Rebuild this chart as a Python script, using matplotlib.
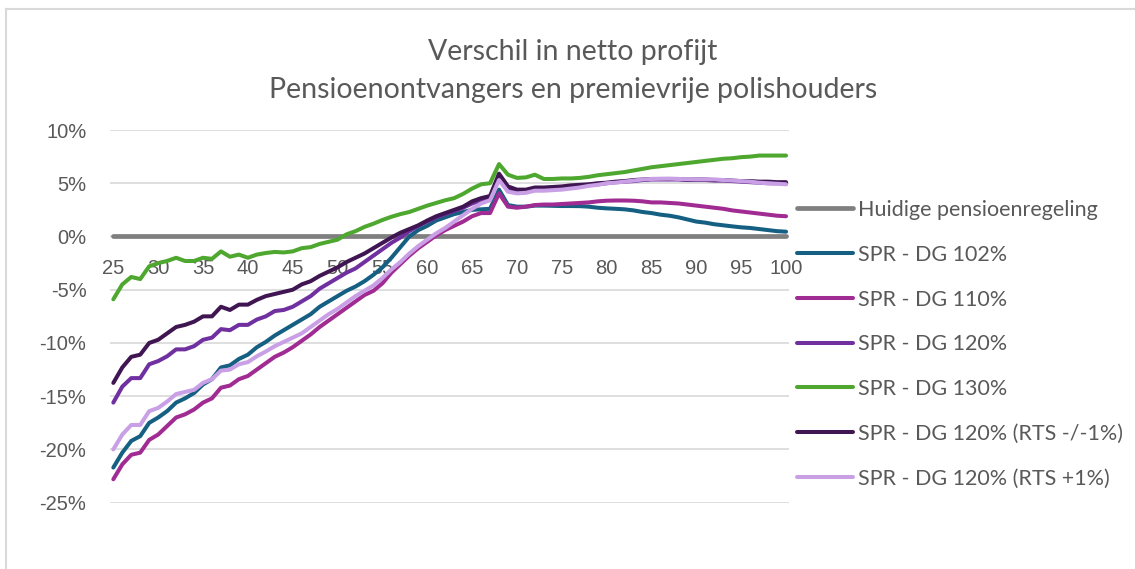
import matplotlib
matplotlib.use("Agg")
import matplotlib.pyplot as plt
from matplotlib.lines import Line2D
from matplotlib.ticker import FuncFormatter, MultipleLocator

# ─── Data (verschil in netto profijt, % per leeftijd) ────────

ages = list(range(25, 101))

huidige = [0.0] * len(ages)

dg_102 = [
    -21.7, -20.3, -19.2, -18.75, -17.5, -17.0, -16.4, -15.6, -15.2, -14.7,
    -13.9, -13.4, -12.3, -12.1, -11.5, -11.1, -10.4, -9.9, -9.3, -8.8,
    -8.3, -7.8, -7.3, -6.6, -6.1, -5.6, -5.1, -4.7, -4.2, -3.6,
    -2.9, -2.0, -1.0, 0.0, 0.6, 1.0, 1.5, 1.8, 2.1, 2.3,
    2.5, 2.55, 2.6, 4.4, 2.95, 2.8, 2.8, 2.9, 2.9, 2.88,
    2.86, 2.86, 2.85, 2.8, 2.7, 2.64, 2.6, 2.55, 2.45, 2.3,
    2.2, 2.05, 1.95, 1.8, 1.6, 1.4, 1.3, 1.15, 1.05, 0.95,
    0.86, 0.8, 0.7, 0.6, 0.5, 0.45,
]

dg_110 = [
    -22.8, -21.4, -20.5, -20.3, -19.1, -18.6, -17.8, -17.0, -16.7, -16.25,
    -15.6, -15.2, -14.2, -14.0, -13.4, -13.1, -12.5, -11.9, -11.3, -10.9,
    -10.4, -9.8, -9.2, -8.5, -7.9, -7.3, -6.7, -6.1, -5.5, -5.1,
    -4.4, -3.4, -2.6, -1.8, -1.1, -0.5, 0.1, 0.6, 1.0, 1.4,
    1.9, 2.2, 2.2, 4.05, 2.8, 2.7, 2.8, 2.95, 3.0, 3.0,
    3.05, 3.1, 3.15, 3.2, 3.3, 3.36, 3.38, 3.38, 3.36, 3.3,
    3.2, 3.2, 3.15, 3.1, 3.0, 2.9, 2.8, 2.7, 2.6, 2.45,
    2.35, 2.25, 2.15, 2.05, 1.95, 1.9,
]

dg_120 = [
    -15.6, -14.1, -13.3, -13.3, -12.0, -11.7, -11.25, -10.6, -10.6, -10.3,
    -9.7, -9.5, -8.7, -8.8, -8.3, -8.3, -7.8, -7.5, -7.0, -6.9,
    -6.6, -6.1, -5.6, -4.9, -4.4, -3.9, -3.4, -3.0, -2.4, -1.8,
    -1.2, -0.6, -0.1, 0.5, 1.0, 1.4, 1.8, 2.1, 2.4, 2.7,
    3.1, 3.4, 3.6, 5.6, 4.45, 4.2, 4.2, 4.45, 4.45, 4.5,
    4.55, 4.65, 4.75, 4.85, 4.9, 5.0, 5.1, 5.15, 5.2, 5.3,
    5.35, 5.35, 5.35, 5.35, 5.3, 5.3, 5.3, 5.25, 5.25, 5.2,
    5.15, 5.1, 5.05, 5.0, 5.0, 4.95,
]

dg_130 = [
    -5.9, -4.5, -3.8, -4.0, -2.8, -2.5, -2.3, -2.0, -2.3, -2.3,
    -2.0, -2.1, -1.4, -1.9, -1.7, -2.0, -1.7, -1.55, -1.45, -1.5,
    -1.4, -1.1, -1.0, -0.7, -0.5, -0.3, 0.2, 0.5, 0.9, 1.2,
    1.55, 1.85, 2.1, 2.3, 2.6, 2.9, 3.15, 3.4, 3.6, 4.0,
    4.5, 4.9, 5.0, 6.8, 5.8, 5.5, 5.55, 5.8, 5.4, 5.4,
    5.45, 5.45, 5.5, 5.6, 5.75, 5.85, 5.95, 6.05, 6.2, 6.35,
    6.5, 6.6, 6.7, 6.8, 6.9, 7.0, 7.1, 7.2, 7.3, 7.35,
    7.45, 7.5, 7.6, 7.6, 7.6, 7.6,
]

dg_120_rts_min = [
    -13.75, -12.3, -11.3, -11.1, -10.0, -9.7, -9.1, -8.5, -8.3, -8.0,
    -7.5, -7.5, -6.6, -6.9, -6.4, -6.4, -5.95, -5.6, -5.4, -5.2,
    -5.0, -4.5, -4.2, -3.7, -3.3, -2.9, -2.4, -2.0, -1.6, -1.1,
    -0.6, -0.1, 0.35, 0.7, 1.05, 1.5, 1.9, 2.2, 2.5, 2.8,
    3.3, 3.6, 3.8, 5.9, 4.7, 4.4, 4.4, 4.6, 4.6, 4.65,
    4.7, 4.8, 4.85, 4.9, 5.0, 5.05, 5.15, 5.2, 5.3, 5.35,
    5.4, 5.4, 5.4, 5.4, 5.35, 5.35, 5.35, 5.3, 5.3, 5.25,
    5.2, 5.2, 5.15, 5.15, 5.1, 5.1,
]

dg_120_rts_plus = [
    -20.0, -18.6, -17.7, -17.7, -16.4, -16.1, -15.5, -14.8, -14.6, -14.4,
    -13.75, -13.4, -12.6, -12.5, -12.0, -11.8, -11.25, -10.8, -10.3, -9.9,
    -9.5, -9.1, -8.5, -7.9, -7.3, -6.8, -6.2, -5.6, -5.1, -4.6,
    -3.9, -3.1, -2.4, -1.6, -0.9, -0.3, 0.3, 0.8, 1.4, 2.0,
    2.6, 3.1, 3.4, 5.3, 4.2, 4.05, 4.1, 4.3, 4.3, 4.35,
    4.4, 4.5, 4.6, 4.75, 4.85, 5.0, 5.05, 5.15, 5.25, 5.35,
    5.4, 5.42, 5.43, 5.4, 5.38, 5.36, 5.36, 5.36, 5.3, 5.25,
    5.2, 5.15, 5.05, 5.0, 4.95, 4.9,
]

series_labels = [
    "Huidige pensioenregeling",
    "SPR - DG 102%",
    "SPR - DG 110%",
    "SPR - DG 120%",
    "SPR - DG 130%",
    "SPR - DG 120% (RTS -/-1%)",
    "SPR - DG 120% (RTS +1%)",
]

TITLE_1 = "Verschil in netto profijt"
TITLE_2 = "Pensioenontvangers en premievrije polishouders"

# ─── Style ───────────────────────────────────────────────────

W, H = 1135, 569
TEXT_GRAY = "#595959"
GRID_GRAY = "#d9d9d9"
COLORS = ["#7f7f7f", "#156082", "#a02b93", "#7030a0",
          "#4ea72e", "#3f1651", "#c9a0e6"]
TICK_FONT = "Liberation Sans"
TEXT_FONT = "Lato"


def px_x(x):
    return x / W


def px_y(y):
    return 1 - y / H


def main():
    fig = plt.figure(figsize=(W / 100, H / 100), dpi=100)
    fig.patch.set_facecolor("white")

    # chart-area border (left + top edge visible in the screenshot)
    fig.add_artist(Line2D([px_x(6), px_x(6)], [px_y(9), 0], color="#d9d9d9", lw=1.5))
    fig.add_artist(Line2D([px_x(6), 1], [px_y(9), px_y(9)], color="#d9d9d9", lw=1.5))

    left, right = px_x(110), px_x(789)
    top, bottom = px_y(130), px_y(502.7)
    ax = fig.add_axes([left, bottom, right - left, top - bottom])

    data = [huidige, dg_102, dg_110, dg_120, dg_130, dg_120_rts_min, dg_120_rts_plus]
    for i, (vals, lbl) in enumerate(zip(data, series_labels)):
        lw = 3.4 if i == 0 else 2.9
        ax.plot(ages, vals, color=COLORS[i], lw=lw, label=lbl,
                solid_capstyle="round", solid_joinstyle="round", zorder=3 + i)

    ax.set_xlim(24.63, 100.33)
    ax.set_ylim(-25, 10)
    ax.yaxis.set_major_locator(MultipleLocator(5))
    ax.yaxis.set_major_formatter(FuncFormatter(lambda v, _: f"{v:.0f}%"))
    ax.set_xticks(list(range(25, 101, 5)))
    ax.grid(True, axis="y", color=GRID_GRAY, lw=1.2, zorder=0)
    ax.set_axisbelow(True)

    for s in ["top", "right", "left"]:
        ax.spines[s].set_visible(False)
    ax.spines["bottom"].set_position(("data", 0))
    ax.spines["bottom"].set_visible(False)

    ax.tick_params(axis="y", length=0, pad=17, labelsize=14.5, labelcolor=TEXT_GRAY)
    ax.tick_params(axis="x", length=0, pad=16, labelsize=14.5, labelcolor=TEXT_GRAY)
    for t in ax.get_xticklabels() + ax.get_yticklabels():
        t.set_fontfamily(TICK_FONT)

    fig.text(px_x(573), px_y(52), TITLE_1, ha="center", va="center",
             fontsize=20.5, color=TEXT_GRAY, family=TEXT_FONT)
    fig.text(px_x(573), px_y(90), TITLE_2, ha="center", va="center",
             fontsize=20.5, color=TEXT_GRAY, family=TEXT_FONT)

    handles, labels = ax.get_legend_handles_labels()
    leg = fig.legend(handles, labels, loc="upper left",
                     bbox_to_anchor=(px_x(797), px_y(200)),
                     frameon=False, borderpad=0, borderaxespad=0,
                     handlelength=2.6, handletextpad=0.25, labelspacing=1.15,
                     prop={"family": TEXT_FONT, "size": 15.5})
    for t in leg.get_texts():
        t.set_color(TEXT_GRAY)

    fig.savefig("out.png", dpi=100)
    plt.close(fig)


if __name__ == "__main__":
    main()
